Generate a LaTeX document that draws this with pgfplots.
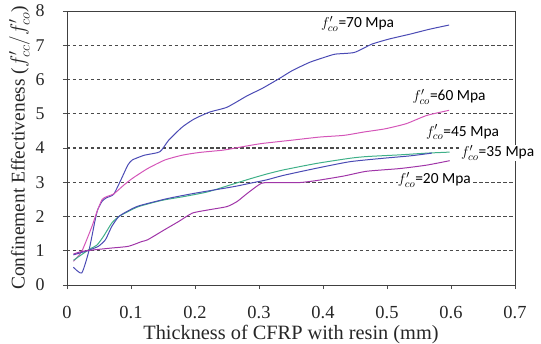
\documentclass[border=0pt]{standalone}
\usepackage{pgfplots}
\pgfplotsset{compat=1.18}
\usepackage{fontspec}
\setmainfont{Liberation Serif}
\newfontfamily\carlito{Carlito}
\definecolor{cBlue}{HTML}{4A4AB4}
\definecolor{cPink}{HTML}{D455B8}
\definecolor{cGreen}{HTML}{3FB088}
\definecolor{cPurple}{HTML}{A035A8}
\definecolor{cGrid}{HTML}{4A4A4A}
\begin{document}
\begin{tikzpicture}
\path[use as bounding box] (-67bp,-59bp) rectangle (474bp,285bp);
\begin{axis}[
  scale only axis,
  width=448bp, height=274bp,
  xmin=0, xmax=0.7, ymin=0, ymax=8,
  xtick={0,0.1,...,0.7}, ytick={1,...,7},
  extra y ticks={0,8},
  extra y tick style={grid=none},
  xticklabels={0,0.1,0.2,0.3,0.4,0.5,0.6,0.7},
  tick align=outside, xtick pos=bottom, ytick pos=left,
  major tick length=4bp,
  tick style={black!70, line width=0.6pt},
  axis line style={black!75, line width=0.9pt},
  ymajorgrids,
  grid style={cGrid, line width=1.3pt, dash pattern=on 3.5pt off 2.5pt},
  /pgf/number format/assume math mode=true,
  xticklabel style={font=\fontsize{18.5}{20}\selectfont, text=black!85, yshift=-14bp},
  yticklabel style={font=\fontsize{18}{20}\selectfont, text=black!85, xshift=-15bp},
  xlabel={Thickness of CFRP with resin (mm)},
  ylabel={Confinement Effectiveness ($f'_{cc}/f'_{co}$)},
  xlabel style={font=\fontsize{20.4}{22}\selectfont, text=black!85, yshift=1bp},
  ylabel style={font=\fontsize{19.5}{22}\selectfont, text=black!85, yshift=-9bp},
  every axis plot/.append style={line width=1pt, line join=round, smooth, tension=0.35},
  clip=false,
]
\addplot[cBlue] coordinates {(0.010,0.52)(0.023,0.35)(0.034,0.98)(0.044,1.9)(0.048,2.2)(0.055,2.45)(0.062,2.55)(0.073,2.65)(0.085,3.1)(0.095,3.5)(0.102,3.65)(0.121,3.79)(0.145,3.89)(0.159,4.23)(0.18,4.61)(0.199,4.85)(0.223,5.05)(0.25,5.19)(0.282,5.53)(0.304,5.73)(0.331,6.02)(0.352,6.26)(0.379,6.5)(0.401,6.64)(0.419,6.74)(0.449,6.79)(0.476,7.03)(0.503,7.18)(0.535,7.32)(0.567,7.47)(0.597,7.59)};
\addplot[cPink] coordinates {(0.01,0.69)(0.023,0.98)(0.039,1.71)(0.047,2.15)(0.055,2.5)(0.062,2.58)(0.073,2.66)(0.089,2.92)(0.102,3.11)(0.126,3.4)(0.153,3.65)(0.18,3.79)(0.207,3.87)(0.245,3.94)(0.272,4.03)(0.304,4.13)(0.352,4.23)(0.395,4.32)(0.433,4.37)(0.465,4.47)(0.497,4.56)(0.53,4.71)(0.562,4.95)(0.597,5.10)};
\addplot[cGreen] coordinates {(0.01,0.72)(0.034,1.03)(0.047,1.17)(0.057,1.42)(0.07,1.81)(0.081,2.0)(0.096,2.15)(0.112,2.29)(0.148,2.47)(0.182,2.58)(0.22,2.72)(0.26,2.95)(0.286,3.1)(0.312,3.24)(0.338,3.36)(0.39,3.55)(0.442,3.70)(0.468,3.75)(0.52,3.80)(0.562,3.85)(0.598,3.88)};
\addplot[cBlue] coordinates {(0.01,0.88)(0.023,0.95)(0.036,1.03)(0.049,1.13)(0.06,1.32)(0.07,1.71)(0.081,2.0)(0.096,2.17)(0.112,2.31)(0.156,2.52)(0.2,2.68)(0.26,2.87)(0.286,2.97)(0.312,3.07)(0.338,3.2)(0.39,3.41)(0.442,3.60)(0.494,3.70)(0.536,3.77)(0.57,3.85)};
\addplot[cPurple] coordinates {(0.01,0.9)(0.023,0.98)(0.044,1.03)(0.07,1.08)(0.096,1.13)(0.117,1.27)(0.126,1.32)(0.153,1.62)(0.175,1.86)(0.196,2.10)(0.223,2.20)(0.25,2.29)(0.266,2.44)(0.282,2.68)(0.304,2.97)(0.325,2.99)(0.363,2.99)(0.39,3.05)(0.432,3.18)(0.468,3.32)(0.52,3.40)(0.562,3.50)(0.598,3.63)};
\begin{scope}[every node/.style={fill=white, inner sep=0.3pt, font=\carlito\fontsize{15.5}{17}\selectfont}]
\node at (axis cs:0.454,7.63) {$f'_{co}$=70 Mpa};
\node at (axis cs:0.597,5.50) {$f'_{co}$=60 Mpa};
\node at (axis cs:0.618,4.46) {$f'_{co}$=45 Mpa};
\node at (axis cs:0.673,3.86) {$f'_{co}$=35 Mpa};
\node at (axis cs:0.574,3.07) {$f'_{co}$=20 Mpa};
\end{scope}
\end{axis}
\end{tikzpicture}
\end{document}
